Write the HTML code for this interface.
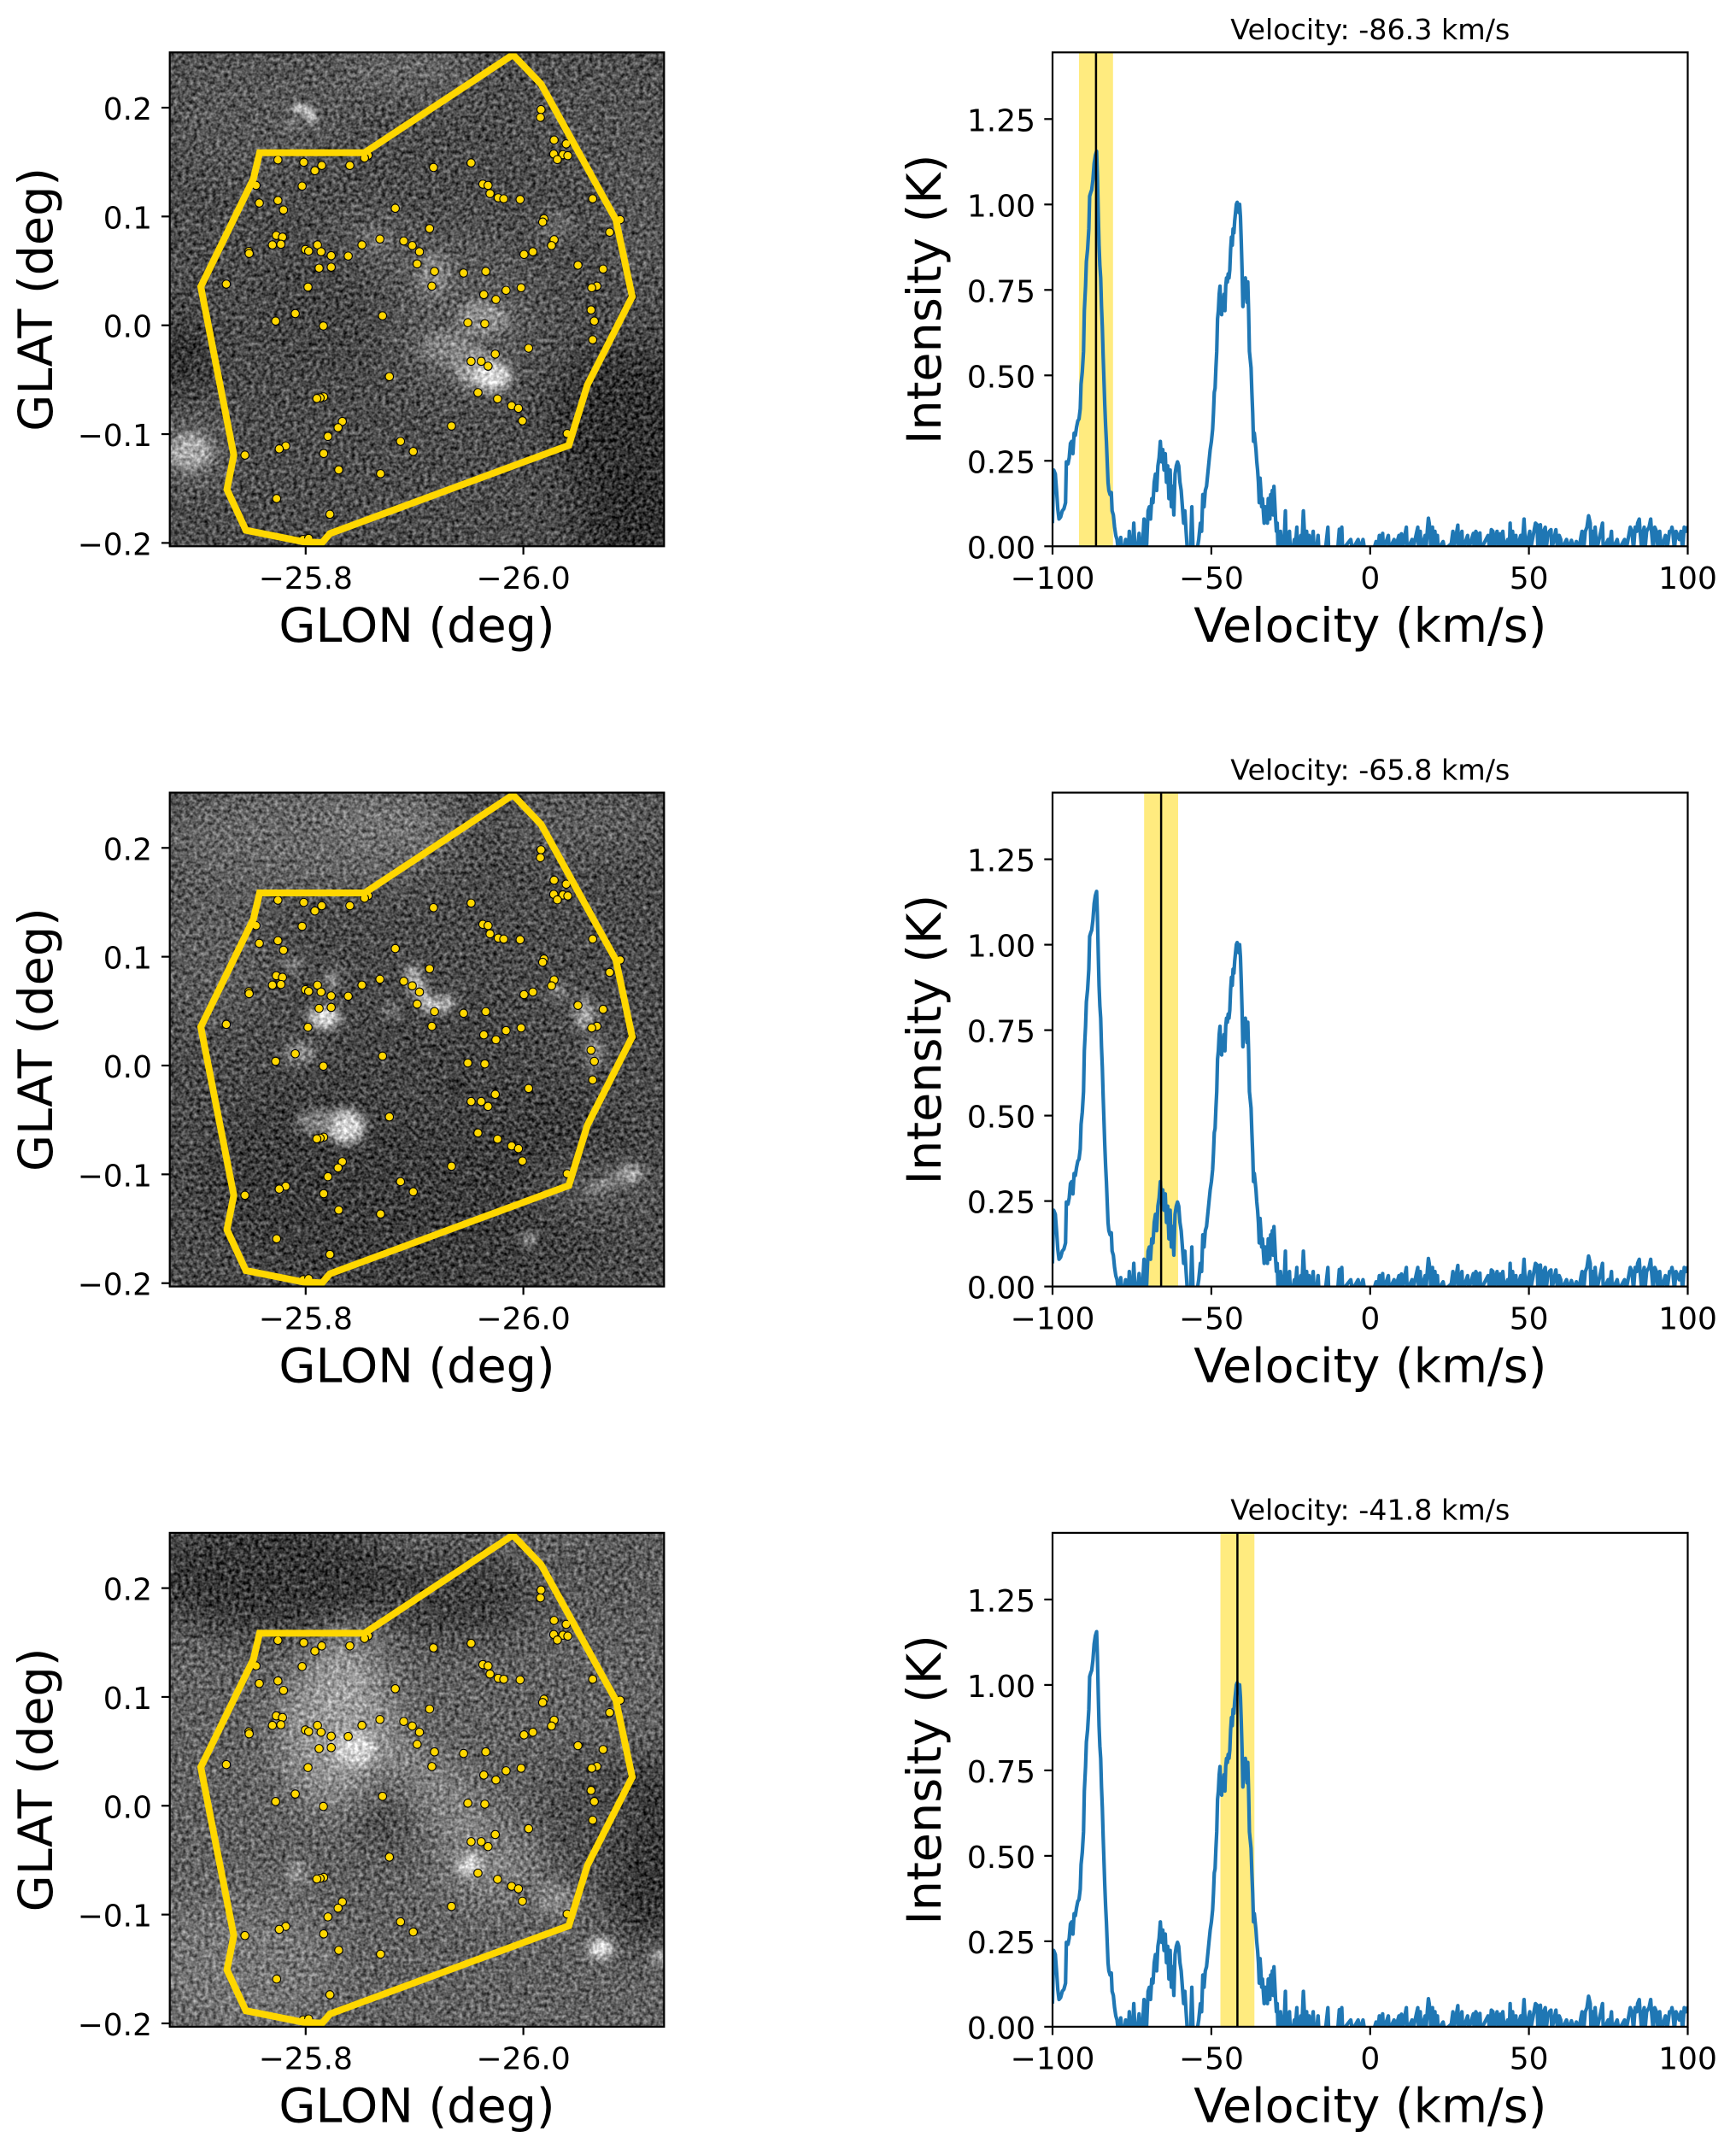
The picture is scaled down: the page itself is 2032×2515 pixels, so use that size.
<!DOCTYPE html>
<html><head><meta charset="utf-8">
<style>
html,body{margin:0;padding:0;background:#fff;}
svg{display:block;}
text{font-family:"DejaVu Sans","Liberation Sans",sans-serif;fill:#000;}
.tk{font-size:36px;}
.lb{font-size:55.6px;}
.tt{font-size:33.3px;}
</style></head>
<body>
<svg width="2032" height="2515" viewBox="0 0 2032 2515" xmlns="http://www.w3.org/2000/svg" xmlns:xlink="http://www.w3.org/1999/xlink">
<defs>
  <clipPath id="imgclip"><rect x="22" y="18" width="1513" height="1510"/></clipPath>
  <clipPath id="specclip"><rect x="4" y="128" width="1556" height="1208"/></clipPath>
  <filter id="b60" filterUnits="userSpaceOnUse" x="-400" y="-400" width="2400" height="2400"><feGaussianBlur stdDeviation="60"/></filter>
  <filter id="b18" filterUnits="userSpaceOnUse" x="-400" y="-400" width="2400" height="2400"><feGaussianBlur stdDeviation="16"/></filter>
  <filter id="b8" filterUnits="userSpaceOnUse" x="-400" y="-400" width="2400" height="2400"><feGaussianBlur stdDeviation="8"/></filter>
  <filter id="nz1" filterUnits="userSpaceOnUse" x="22" y="18" width="1513" height="1510" color-interpolation-filters="sRGB">
    <feTurbulence type="fractalNoise" baseFrequency="0.085" numOctaves="2" seed="1" result="t"/>
    <feColorMatrix in="t" type="matrix" values="1 0 0 0 0 1 0 0 0 0 1 0 0 0 0 0 0 0 0 1" result="g"/>
    <feComposite in="SourceGraphic" in2="g" operator="arithmetic" k1="0" k2="1" k3="0.8" k4="-0.4"/>
  </filter>
  <filter id="nz2" filterUnits="userSpaceOnUse" x="22" y="18" width="1513" height="1510" color-interpolation-filters="sRGB">
    <feTurbulence type="fractalNoise" baseFrequency="0.085" numOctaves="2" seed="7" result="t"/>
    <feColorMatrix in="t" type="matrix" values="1 0 0 0 0 1 0 0 0 0 1 0 0 0 0 0 0 0 0 1" result="g"/>
    <feComposite in="SourceGraphic" in2="g" operator="arithmetic" k1="0" k2="1" k3="0.8" k4="-0.4"/>
  </filter>
  <filter id="nz3" filterUnits="userSpaceOnUse" x="22" y="18" width="1513" height="1510" color-interpolation-filters="sRGB">
    <feTurbulence type="fractalNoise" baseFrequency="0.085" numOctaves="2" seed="13" result="t"/>
    <feColorMatrix in="t" type="matrix" values="1 0 0 0 0 1 0 0 0 0 1 0 0 0 0 0 0 0 0 1" result="g"/>
    <feComposite in="SourceGraphic" in2="g" operator="arithmetic" k1="0" k2="1" k3="0.8" k4="-0.4"/>
  </filter>

  <g id="overlay">
    <g fill="#FFD700" stroke="#000" stroke-width="2.8">
      <circle cx="1158" cy="193" r="12.5"/><circle cx="1156" cy="217" r="12.5"/><circle cx="1198" cy="286" r="12.5"/><circle cx="1235" cy="298" r="12.5"/>
      <circle cx="1197" cy="329" r="12.5"/><circle cx="1225" cy="331" r="12.5"/><circle cx="1240" cy="334" r="12.5"/><circle cx="1208" cy="346" r="12.5"/>
      <circle cx="629" cy="333" r="12.5"/><circle cx="618" cy="341" r="12.5"/><circle cx="353" cy="347" r="12.5"/><circle cx="432" cy="354" r="12.5"/>
      <circle cx="487" cy="364" r="12.5"/><circle cx="466" cy="380" r="12.5"/><circle cx="573" cy="364" r="12.5"/><circle cx="829" cy="370" r="12.5"/>
      <circle cx="944" cy="356" r="12.5"/><circle cx="286" cy="425" r="12.5"/><circle cx="427" cy="427" r="12.5"/><circle cx="980" cy="421" r="12.5"/>
      <circle cx="996" cy="425" r="12.5"/><circle cx="1002" cy="450" r="12.5"/><circle cx="1027" cy="463" r="12.5"/><circle cx="1044" cy="466" r="12.5"/>
      <circle cx="1094" cy="468" r="12.5"/><circle cx="1316" cy="466" r="12.5"/><circle cx="296" cy="479" r="12.5"/><circle cx="353" cy="471" r="12.5"/>
      <circle cx="370" cy="500" r="12.5"/><circle cx="712" cy="495" r="12.5"/><circle cx="1167" cy="527" r="12.5"/><circle cx="1163" cy="537" r="12.5"/>
      <circle cx="817" cy="557" r="12.5"/><circle cx="348" cy="578" r="12.5"/><circle cx="367" cy="583" r="12.5"/><circle cx="336" cy="607" r="12.5"/>
      <circle cx="362" cy="605" r="12.5"/><circle cx="264" cy="627" r="12.5"/><circle cx="265" cy="633" r="12.5"/><circle cx="1368" cy="568" r="12.5"/>
      <circle cx="1198" cy="591" r="12.5"/><circle cx="1190" cy="609" r="12.5"/><circle cx="665" cy="589" r="12.5"/><circle cx="738" cy="595" r="12.5"/>
      <circle cx="764" cy="609" r="12.5"/><circle cx="786" cy="628" r="12.5"/><circle cx="610" cy="607" r="12.5"/><circle cx="474" cy="607" r="12.5"/>
      <circle cx="437" cy="621" r="12.5"/><circle cx="447" cy="626" r="12.5"/><circle cx="485" cy="628" r="12.5"/><circle cx="516" cy="640" r="12.5"/>
      <circle cx="568" cy="641" r="12.5"/><circle cx="1133" cy="628" r="12.5"/><circle cx="1106" cy="636" r="12.5"/><circle cx="779" cy="665" r="12.5"/>
      <circle cx="479" cy="678" r="12.5"/><circle cx="516" cy="675" r="12.5"/><circle cx="832" cy="688" r="12.5"/><circle cx="921" cy="693" r="12.5"/>
      <circle cx="989" cy="688" r="12.5"/><circle cx="1271" cy="669" r="12.5"/><circle cx="1348" cy="681" r="12.5"/><circle cx="195" cy="727" r="12.5"/>
      <circle cx="445" cy="736" r="12.5"/><circle cx="824" cy="733" r="12.5"/><circle cx="1097" cy="738" r="12.5"/><circle cx="1051" cy="746" r="12.5"/>
      <circle cx="1329" cy="733" r="12.5"/><circle cx="1313" cy="738" r="12.5"/><circle cx="983" cy="759" r="12.5"/><circle cx="1020" cy="774" r="12.5"/>
      <circle cx="1311" cy="806" r="12.5"/><circle cx="1321" cy="840" r="12.5"/><circle cx="346" cy="840" r="12.5"/><circle cx="406" cy="817" r="12.5"/>
      <circle cx="492" cy="855" r="12.5"/><circle cx="673" cy="824" r="12.5"/><circle cx="934" cy="845" r="12.5"/><circle cx="986" cy="848" r="12.5"/>
      <circle cx="1316" cy="897" r="12.5"/><circle cx="1120" cy="923" r="12.5"/><circle cx="1018" cy="941" r="12.5"/><circle cx="944" cy="963" r="12.5"/>
      <circle cx="975" cy="963" r="12.5"/><circle cx="996" cy="978" r="12.5"/><circle cx="694" cy="1010" r="12.5"/><circle cx="965" cy="1059" r="12.5"/>
      <circle cx="1025" cy="1078" r="12.5"/><circle cx="493" cy="1072" r="12.5"/><circle cx="482" cy="1075" r="12.5"/><circle cx="472" cy="1077" r="12.5"/>
      <circle cx="1068" cy="1099" r="12.5"/><circle cx="1089" cy="1107" r="12.5"/><circle cx="1101" cy="1145" r="12.5"/><circle cx="550" cy="1147" r="12.5"/>
      <circle cx="537" cy="1166" r="12.5"/><circle cx="884" cy="1161" r="12.5"/><circle cx="506" cy="1193" r="12.5"/><circle cx="1238" cy="1184" r="12.5"/>
      <circle cx="728" cy="1208" r="12.5"/><circle cx="767" cy="1239" r="12.5"/><circle cx="377" cy="1222" r="12.5"/><circle cx="357" cy="1231" r="12.5"/>
      <circle cx="252" cy="1250" r="12.5"/><circle cx="493" cy="1245" r="12.5"/><circle cx="539" cy="1295" r="12.5"/><circle cx="667" cy="1307" r="12.5"/>
      <circle cx="349" cy="1383" r="12.5"/><circle cx="512" cy="1431" r="12.5"/><circle cx="430" cy="1508" r="12.5"/><circle cx="447" cy="1505" r="12.5"/>
      <circle cx="1400" cy="530" r="12.5"/><circle cx="1437" cy="765" r="12.5"/>
    </g>
    <polygon points="1072,25 1158,115 1387,530 1437,765 1300,1035 1243,1220 512,1490 488,1518 430,1515 255,1480 197,1355 218,1250 117,735 278,405 297,325 618,325" fill="none" stroke="#FFD700" stroke-width="21" stroke-linejoin="miter"/>
  </g>

  <polyline id="spec" fill="none" stroke="#1f77b4" stroke-width="8.8" stroke-linejoin="round" points="4,1280 7,1150 11,1160 14,1200 17,1245 20,1270 24,1265 28,1250 32,1245 36,1230 38,1130 42,1135 45,1120 48,1085 51,1080 54,1110 57,1060 60,1065 63,1045 66,1030 69,1025 72,1000 74,940 77,910 80,860 82,760 85,700 87,640 90,610 93,560 95,480 98,470 100,465 103,440 106,400 109,380 112,370 114,430 116,520 118,600 120,650 122,680 124,750 126,800 128,870 130,930 132,990 134,1040 136,1080 138,1130 140,1180 142,1200 145,1210 148,1205 150,1250 153,1260 156,1290 159,1310 162,1320 165,1345 168,1345 171,1315 174,1345 180,1345 183,1320 186,1345 190,1345 192,1300 195,1345 200,1345 203,1280 206,1345 212,1345 216,1305 219,1345 224,1345 228,1270 231,1300 234,1345 238,1250 241,1240 244,1270 247,1220 250,1230 253,1180 256,1160 259,1200 262,1140 265,1120 268,1080 271,1130 274,1100 277,1150 280,1110 283,1180 286,1140 289,1220 292,1150 295,1240 298,1190 301,1260 304,1160 307,1140 310,1130 313,1140 316,1180 319,1200 322,1240 325,1280 328,1250 331,1300 334,1345 338,1345 342,1345 345,1240 348,1345 352,1345 358,1345 362,1320 366,1280 369,1300 372,1210 375,1240 378,1200 381,1190 384,1160 387,1130 390,1100 393,1080 396,1050 398,1010 400,960 402,950 404,900 406,860 408,780 410,760 412,720 414,700 416,760 418,770 420,730 422,750 424,720 426,760 428,700 430,680 432,690 434,670 436,680 438,660 440,610 442,580 444,600 446,560 448,570 450,540 452,520 454,500 456,495 458,510 460,520 462,500 464,530 466,590 468,660 470,750 472,700 474,720 476,680 478,700 480,740 482,690 484,760 486,860 488,880 490,900 492,960 494,1010 496,1080 498,1060 500,1080 502,1100 504,1130 506,1150 508,1180 510,1230 512,1170 514,1200 516,1240 518,1220 520,1250 522,1280 524,1240 526,1270 528,1240 530,1280 532,1220 534,1250 536,1270 538,1210 540,1240 542,1200 544,1260 546,1190 548,1230 550,1270 552,1300 554,1280 556,1345 560,1345 562,1300 564,1345 568,1345 572,1300 574,1250 576,1345 580,1345 584,1300 586,1345 592,1345 596,1320 598,1345 602,1290 604,1345 608,1345 612,1310 614,1345 618,1250 620,1290 622,1345 626,1300 628,1345 632,1310 634,1345 638,1345 642,1300 644,1345 650,1345 654,1310 656,1345 672,1345 678,1290 680,1345 702,1345 706,1295 708,1345 712,1290 714,1345 734,1320 738,1345 752,1320 756,1345 764,1320 768,1345 790,1345 796,1325 800,1345 804,1310 808,1345 812,1305 814,1345 826,1310 828,1345 840,1320 842,1345 852,1310 854,1345 858,1306 860,1345 870,1290 872,1345 884,1320 886,1345 898,1290 900,1345 904,1300 906,1345 916,1310 918,1345 922,1290 924,1268 926,1280 928,1300 930,1345 934,1290 936,1345 940,1300 942,1345 946,1310 948,1345 960,1325 964,1345 980,1330 984,1300 986,1345 996,1285 998,1345 1006,1300 1008,1345 1020,1310 1022,1345 1034,1305 1036,1345 1040,1300 1044,1310 1046,1345 1050,1304 1052,1345 1070,1310 1074,1345 1078,1296 1082,1300 1084,1345 1090,1310 1092,1300 1096,1345 1100,1306 1102,1345 1106,1300 1110,1345 1118,1320 1122,1345 1124,1280 1126,1345 1130,1300 1134,1345 1138,1310 1140,1345 1150,1310 1152,1345 1156,1300 1158,1270 1162,1345 1172,1300 1174,1345 1186,1280 1190,1284 1192,1345 1196,1300 1198,1284 1202,1345 1206,1300 1210,1290 1212,1345 1216,1310 1220,1300 1224,1296 1226,1345 1236,1296 1240,1345 1244,1310 1248,1320 1250,1345 1262,1320 1268,1345 1274,1322 1280,1345 1286,1325 1292,1345 1298,1310 1300,1300 1304,1345 1308,1300 1312,1290 1316,1262 1320,1280 1322,1345 1326,1300 1328,1345 1332,1290 1336,1345 1346,1300 1350,1280 1352,1345 1364,1320 1366,1345 1372,1300 1374,1345 1386,1320 1390,1345 1404,1320 1408,1345 1418,1290 1422,1300 1426,1345 1430,1290 1434,1300 1436,1280 1440,1270 1442,1300 1446,1345 1450,1300 1452,1290 1454,1345 1458,1300 1464,1290 1468,1270 1470,1300 1474,1345 1478,1290 1482,1300 1486,1345 1490,1300 1494,1345 1504,1310 1508,1345 1514,1300 1518,1300 1520,1290 1522,1300 1526,1345 1530,1300 1534,1310 1538,1320 1542,1300 1546,1345 1550,1290 1554,1300 1558,1290 1562,1300"/>
</defs>

<!-- ============ ROW 1 IMAGE ============ -->
<g transform="translate(190.28,54.41) scale(0.38256)">
 <g clip-path="url(#imgclip)">
  <g filter="url(#nz1)">
   <rect x="22" y="18" width="1513" height="1510" fill="#4d4d4d"/>
   <g filter="url(#b60)">
    <ellipse cx="300" cy="200" rx="300" ry="200" fill="#585858"/>
    <ellipse cx="750" cy="60" rx="220" ry="90" fill="#686868"/>
    <ellipse cx="1350" cy="200" rx="250" ry="200" fill="#525252"/>
    <ellipse cx="60" cy="950" rx="100" ry="120" fill="#333"/>
    <ellipse cx="1420" cy="1150" rx="230" ry="230" fill="#333"/>
    <ellipse cx="1460" cy="1450" rx="200" ry="150" fill="#2e2e2e"/>
    <ellipse cx="920" cy="820" rx="250" ry="260" fill="#5c5c5c"/>
    <ellipse cx="650" cy="600" rx="120" ry="80" fill="#626262"/>
    <ellipse cx="1460" cy="500" rx="120" ry="250" fill="#575757"/>
    <ellipse cx="500" cy="820" rx="200" ry="200" fill="#474747"/>
    <ellipse cx="80" cy="1240" rx="110" ry="90" fill="#707070"/>
   </g>
   <g filter="url(#b8)">
    <path d="M400,192 Q448,178 462,232" stroke="#d8d8d8" stroke-width="24" fill="none"/>
    <path d="M380,250 Q395,232 410,225" stroke="#999" stroke-width="18" fill="none"/>
   </g>
   <g filter="url(#b18)">
    <ellipse cx="85" cy="1240" rx="65" ry="55" fill="#aaaaaa"/>
    <ellipse cx="830" cy="700" rx="50" ry="70" fill="#848484"/>
    <ellipse cx="980" cy="830" rx="80" ry="50" fill="#929292"/>
    <ellipse cx="950" cy="980" rx="60" ry="60" fill="#9e9e9e"/>
    <ellipse cx="1010" cy="1010" rx="55" ry="45" fill="#dddddd"/>
    <ellipse cx="870" cy="920" rx="80" ry="50" fill="#828282"/>
    <ellipse cx="650" cy="590" rx="40" ry="30" fill="#767676"/>
    <ellipse cx="1200" cy="550" rx="60" ry="50" fill="#666"/>
   </g>
  </g>
  <use xlink:href="#overlay" href="#overlay"/>
 </g>
</g>

<!-- ============ ROW 2 IMAGE ============ -->
<g transform="translate(190.28,920.71) scale(0.38256)">
 <g clip-path="url(#imgclip)">
  <g filter="url(#nz2)">
   <rect x="22" y="18" width="1513" height="1510" fill="#4b4b4b"/>
   <g filter="url(#b60)">
    <ellipse cx="450" cy="150" rx="450" ry="170" fill="#686868"/>
    <ellipse cx="700" cy="100" rx="200" ry="90" fill="#747474"/>
    <ellipse cx="1300" cy="100" rx="250" ry="120" fill="#5c5c5c"/>
    <ellipse cx="150" cy="500" rx="180" ry="250" fill="#5c5c5c"/>
    <ellipse cx="800" cy="1200" rx="700" ry="350" fill="#3e3e3e"/>
    <ellipse cx="850" cy="850" rx="300" ry="200" fill="#444"/>
    <ellipse cx="1350" cy="1240" rx="200" ry="100" fill="#555"/>
   </g>
   <g filter="url(#b18)">
    <ellipse cx="495" cy="705" rx="45" ry="32" fill="#eeeeee"/>
    <ellipse cx="520" cy="590" rx="15" ry="25" fill="#c4c4c4"/>
    <ellipse cx="400" cy="545" rx="25" ry="25" fill="#858585"/>
    <path d="M760,555 Q780,635 820,675 L890,655" stroke="#cfcfcf" stroke-width="38" fill="none"/>
    <ellipse cx="700" cy="685" rx="20" ry="20" fill="#929292"/>
    <ellipse cx="1210" cy="625" rx="20" ry="20" fill="#b0b0b0"/>
    <ellipse cx="1290" cy="695" rx="30" ry="50" fill="#a8a8a8"/>
    <ellipse cx="1320" cy="815" rx="25" ry="50" fill="#929292"/>
    <ellipse cx="560" cy="1040" rx="58" ry="52" fill="#d8d8d8"/>
    <ellipse cx="470" cy="1025" rx="60" ry="40" fill="#828282"/>
    <ellipse cx="420" cy="815" rx="50" ry="30" fill="#929292"/>
    <ellipse cx="1120" cy="1385" rx="20" ry="20" fill="#bababa"/>
    <ellipse cx="1430" cy="1185" rx="35" ry="25" fill="#dadada"/>
    <path d="M1300,1245 Q1380,1195 1440,1185" stroke="#949494" stroke-width="30" fill="none"/>
    <ellipse cx="900" cy="920" rx="20" ry="20" fill="#262626"/>
   </g>
  </g>
  <use xlink:href="#overlay" href="#overlay"/>
 </g>
</g>

<!-- ============ ROW 3 IMAGE ============ -->
<g transform="translate(190.28,1787.01) scale(0.38256)">
 <g clip-path="url(#imgclip)">
  <g filter="url(#nz3)">
   <rect x="22" y="18" width="1513" height="1510" fill="#626262"/>
   <g filter="url(#b60)">
    <ellipse cx="330" cy="150" rx="400" ry="190" fill="#383838"/>
    <ellipse cx="900" cy="210" rx="250" ry="140" fill="#404040"/>
    <ellipse cx="1350" cy="150" rx="200" ry="150" fill="#5a5a5a"/>
    <ellipse cx="1480" cy="990" rx="120" ry="300" fill="#303030"/>
    <ellipse cx="540" cy="630" rx="180" ry="230" fill="#9a9a9a"/>
    <ellipse cx="560" cy="440" rx="80" ry="100" fill="#a8a8a8"/>
    <ellipse cx="850" cy="820" rx="250" ry="80" fill="#888" transform="rotate(45 850 820)"/>
    <ellipse cx="680" cy="870" rx="100" ry="120" fill="#4c4c4c"/>
    <ellipse cx="1000" cy="1040" rx="150" ry="100" fill="#868686"/>
    <ellipse cx="250" cy="1340" rx="300" ry="200" fill="#767676"/>
    <ellipse cx="1300" cy="890" rx="150" ry="200" fill="#4e4e4e"/>
   </g>
   <g filter="url(#b18)">
    <ellipse cx="590" cy="680" rx="60" ry="50" fill="#d8d8d8"/>
    <ellipse cx="940" cy="1035" rx="35" ry="30" fill="#e2e2e2"/>
    <ellipse cx="1340" cy="1290" rx="38" ry="28" fill="#f2f2f2"/>
    <ellipse cx="1520" cy="1315" rx="20" ry="20" fill="#d8d8d8"/>
    <ellipse cx="1200" cy="1140" rx="60" ry="50" fill="#848484"/>
    <ellipse cx="410" cy="1060" rx="30" ry="40" fill="#939393"/>
   </g>
  </g>
  <use xlink:href="#overlay" href="#overlay"/>
 </g>
</g>

<!-- ============ SPECTRA ============ -->
<g>
 <rect x="1263" y="61.3" width="39.8" height="578" fill="#FFD700" fill-opacity="0.5"/>
 <g transform="translate(1230,0) scale(0.47831)"><g clip-path="url(#specclip)"><use xlink:href="#spec" href="#spec"/></g></g>
 <line x1="1282.9" y1="61.3" x2="1282.9" y2="639.3" stroke="#000" stroke-width="2.5"/>
</g>
<g>
 <rect x="1339.2" y="927.6" width="39.8" height="578" fill="#FFD700" fill-opacity="0.5"/>
 <g transform="translate(1230,866.3) scale(0.47831)"><g clip-path="url(#specclip)"><use xlink:href="#spec" href="#spec"/></g></g>
 <line x1="1359.1" y1="927.6" x2="1359.1" y2="1505.6" stroke="#000" stroke-width="2.5"/>
</g>
<g>
 <rect x="1428.5" y="1793.9" width="39.8" height="578" fill="#FFD700" fill-opacity="0.5"/>
 <g transform="translate(1230,1732.6) scale(0.47831)"><g clip-path="url(#specclip)"><use xlink:href="#spec" href="#spec"/></g></g>
 <line x1="1448.4" y1="1793.9" x2="1448.4" y2="2371.9" stroke="#000" stroke-width="2.5"/>
</g>

<!-- ============ AXES / TEXT (per row) ============ -->
<g id="axrow">
 <rect x="198.7" y="61.3" width="578.6" height="578" fill="none" stroke="#000" stroke-width="2.2"/>
 <g stroke="#000" stroke-width="2.2">
  <line x1="357.8" y1="639.3" x2="357.8" y2="649"/>
  <line x1="612.6" y1="639.3" x2="612.6" y2="649"/>
  <line x1="189" y1="126" x2="198.7" y2="126"/>
  <line x1="189" y1="253.35" x2="198.7" y2="253.35"/>
  <line x1="189" y1="380.7" x2="198.7" y2="380.7"/>
  <line x1="189" y1="508.05" x2="198.7" y2="508.05"/>
  <line x1="189" y1="635.4" x2="198.7" y2="635.4"/>
 </g>
 <g class="tk" text-anchor="end">
  <text x="178" y="140">0.2</text>
  <text x="178" y="267.35">0.1</text>
  <text x="178" y="394.7">0.0</text>
  <text x="178" y="522.05">−0.1</text>
  <text x="178" y="649.4">−0.2</text>
 </g>
 <g class="tk" text-anchor="middle">
  <text x="357.8" y="689">−25.8</text>
  <text x="612.6" y="689">−26.0</text>
 </g>
 <text class="lb" x="488" y="751" text-anchor="middle">GLON (deg)</text>
 <text class="lb" transform="translate(61,350.3) rotate(-90)" text-anchor="middle">GLAT (deg)</text>

 <rect x="1232" y="61.3" width="743.5" height="578" fill="none" stroke="#000" stroke-width="2.2"/>
 <g stroke="#000" stroke-width="2.2">
  <line x1="1232" y1="639.3" x2="1232" y2="649"/>
  <line x1="1417.9" y1="639.3" x2="1417.9" y2="649"/>
  <line x1="1603.8" y1="639.3" x2="1603.8" y2="649"/>
  <line x1="1789.6" y1="639.3" x2="1789.6" y2="649"/>
  <line x1="1975.5" y1="639.3" x2="1975.5" y2="649"/>
  <line x1="1222.3" y1="639.3" x2="1232" y2="639.3"/>
  <line x1="1222.3" y1="539.3" x2="1232" y2="539.3"/>
  <line x1="1222.3" y1="439.3" x2="1232" y2="439.3"/>
  <line x1="1222.3" y1="339.3" x2="1232" y2="339.3"/>
  <line x1="1222.3" y1="239.3" x2="1232" y2="239.3"/>
  <line x1="1222.3" y1="139.3" x2="1232" y2="139.3"/>
 </g>
 <g class="tk" text-anchor="end">
  <text x="1212" y="653.3">0.00</text>
  <text x="1212" y="553.3">0.25</text>
  <text x="1212" y="453.3">0.50</text>
  <text x="1212" y="353.3">0.75</text>
  <text x="1212" y="253.3">1.00</text>
  <text x="1212" y="153.3">1.25</text>
 </g>
 <g class="tk" text-anchor="middle">
  <text x="1232" y="689">−100</text>
  <text x="1417.9" y="689">−50</text>
  <text x="1603.8" y="689">0</text>
  <text x="1789.6" y="689">50</text>
  <text x="1975.5" y="689">100</text>
 </g>
 <text class="lb" x="1603.8" y="751" text-anchor="middle">Velocity (km/s)</text>
 <text class="lb" transform="translate(1101,350.3) rotate(-90)" text-anchor="middle">Intensity (K)</text>
</g>
<use xlink:href="#axrow" href="#axrow" transform="translate(0,866.3)"/>
<use xlink:href="#axrow" href="#axrow" transform="translate(0,1732.6)"/>

<text class="tt" x="1603.8" y="46" text-anchor="middle">Velocity: -86.3 km/s</text>
<text class="tt" x="1603.8" y="912.3" text-anchor="middle">Velocity: -65.8 km/s</text>
<text class="tt" x="1603.8" y="1778.6" text-anchor="middle">Velocity: -41.8 km/s</text>
</svg>
</body></html>
